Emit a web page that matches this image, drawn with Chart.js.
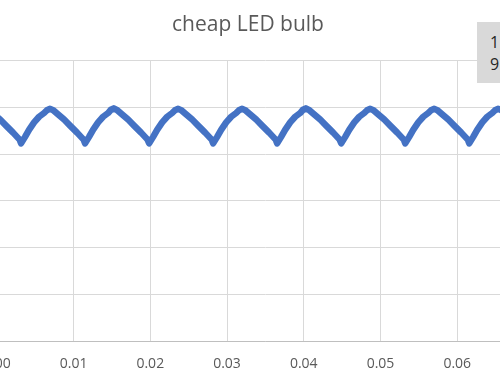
<!DOCTYPE html>
<html>
<head>
<meta charset="utf-8">
<script src="https://cdn.jsdelivr.net/npm/chart.js@4/dist/chart.umd.min.js"></script>
<style>
  html, body { margin: 0; padding: 0; width: 500px; height: 383px; overflow: hidden; background: #ffffff; }
  #c { position: absolute; left: -38px; top: 0; }
  #box { position: absolute; left: 477px; top: 22px; width: 40px; height: 52px; padding-top: 9px;
         background: #d9d9d9; font-family: "Open Sans", sans-serif; font-size: 16px; line-height: 22px;
         color: #262626; box-sizing: content-box; padding-left: 13px; }
</style>
</head>
<body>
<canvas id="c" width="572" height="383"></canvas>
<div id="box">1<br>9</div>
<script>
// --- data (time in s, intensity in arbitrary units) ---
const chartTitle = 'cheap LED bulb';
const xTickLabels = ['0.00','0.01','0.02','0.03','0.04','0.05','0.06','0.07'];
const yTickLabels = ['0','1','2','3','4','5','6'];
const times = [
  0.00000, 0.00043, 0.00127, 0.00212, 0.00297,
  0.00316, 0.00368, 0.00420, 0.00486, 0.00551, 0.00616, 0.00653, 0.00690, 0.00736, 0.00785, 0.00877, 0.00961, 0.01046, 0.01131,
  0.01150, 0.01202, 0.01254, 0.01320, 0.01385, 0.01450, 0.01487, 0.01524, 0.01570, 0.01619, 0.01711, 0.01795, 0.01880, 0.01965,
  0.01985, 0.02037, 0.02089, 0.02155, 0.02220, 0.02285, 0.02322, 0.02359, 0.02405, 0.02454, 0.02546, 0.02630, 0.02715, 0.02800,
  0.02819, 0.02871, 0.02923, 0.02989, 0.03054, 0.03119, 0.03156, 0.03193, 0.03239, 0.03288, 0.03380, 0.03464, 0.03549, 0.03634,
  0.03653, 0.03705, 0.03757, 0.03823, 0.03888, 0.03953, 0.03990, 0.04027, 0.04073, 0.04122, 0.04214, 0.04298, 0.04383, 0.04468,
  0.04488, 0.04540, 0.04592, 0.04658, 0.04723, 0.04788, 0.04825, 0.04862, 0.04908, 0.04957, 0.05049, 0.05133, 0.05218, 0.05303,
  0.05322, 0.05374, 0.05426, 0.05492, 0.05557, 0.05622, 0.05659, 0.05696, 0.05742, 0.05791, 0.05883, 0.05967, 0.06052, 0.06137,
  0.06156, 0.06208, 0.06260, 0.06326, 0.06391, 0.06456, 0.06493, 0.06530, 0.06576, 0.06625, 0.06717, 0.06801, 0.06886, 0.06971
];
const intensity = [
  4.80, 4.74, 4.60, 4.46, 4.31,
  4.23, 4.37, 4.52, 4.68, 4.80, 4.88, 4.94, 4.97, 4.94, 4.87, 4.74, 4.60, 4.46, 4.31,
  4.23, 4.37, 4.52, 4.68, 4.80, 4.88, 4.95, 4.98, 4.94, 4.87, 4.74, 4.60, 4.46, 4.31,
  4.23, 4.37, 4.52, 4.68, 4.80, 4.88, 4.94, 4.97, 4.94, 4.87, 4.74, 4.60, 4.46, 4.31,
  4.23, 4.37, 4.52, 4.68, 4.80, 4.88, 4.94, 4.97, 4.94, 4.87, 4.74, 4.60, 4.46, 4.31,
  4.23, 4.37, 4.52, 4.68, 4.80, 4.88, 4.95, 4.98, 4.94, 4.87, 4.74, 4.60, 4.46, 4.31,
  4.23, 4.37, 4.52, 4.68, 4.80, 4.88, 4.94, 4.97, 4.94, 4.87, 4.74, 4.60, 4.46, 4.31,
  4.23, 4.37, 4.52, 4.68, 4.80, 4.88, 4.94, 4.97, 4.94, 4.87, 4.74, 4.60, 4.46, 4.31,
  4.23, 4.37, 4.52, 4.68, 4.80, 4.88, 4.94, 4.97, 4.94, 4.87, 4.74, 4.60, 4.46, 4.31
];

const points = times.map((t, i) => ({ x: t, y: intensity[i] }));

new Chart(document.getElementById('c'), {
  type: 'line',
  data: {
    datasets: [{
      data: points,
      borderColor: '#4472C4',
      borderWidth: 6.5,
      borderJoinStyle: 'round',
      borderCapStyle: 'round',
      pointRadius: 0,
      tension: 0,
      fill: false
    }]
  },
  options: {
    responsive: false,
    animation: false,
    layout: { padding: 0 },
    plugins: {
      legend: { display: false },
      tooltip: { enabled: false },
      title: {
        display: true,
        text: chartTitle,
        color: '#595959',
        font: { family: 'Open Sans', size: 21, weight: 'normal', lineHeight: 1.2 },
        padding: { top: 12, bottom: 23.5 }
      }
    },
    scales: {
      x: {
        type: 'linear',
        min: 0, max: 0.07,
        grid: { color: '#d9d9d9', lineWidth: 1, drawTicks: false },
        border: { display: true, color: '#bfbfbf', width: 1 },
        ticks: {
          stepSize: 0.01,
          padding: 15,
          color: '#595959',
          font: { family: 'Open Sans', size: 14 },
          maxRotation: 0,
          autoSkip: false,
          callback: (v) => xTickLabels[Math.round(v * 100)] ?? ''
        },
        afterFit: (s) => { s.height = 42; s.paddingLeft = 0; s.paddingRight = 0; }
      },
      y: {
        type: 'linear',
        min: 0, max: 6,
        grid: { color: '#d9d9d9', lineWidth: 1, drawTicks: false },
        border: { display: false },
        ticks: {
          stepSize: 1,
          padding: 6,
          color: '#595959',
          font: { family: 'Open Sans', size: 14 },
          callback: (v) => yTickLabels[Math.round(v)] ?? ''
        },
        afterFit: (s) => { s.width = 34.8; }
      }
    }
  }
});
</script>
</body>
</html>
